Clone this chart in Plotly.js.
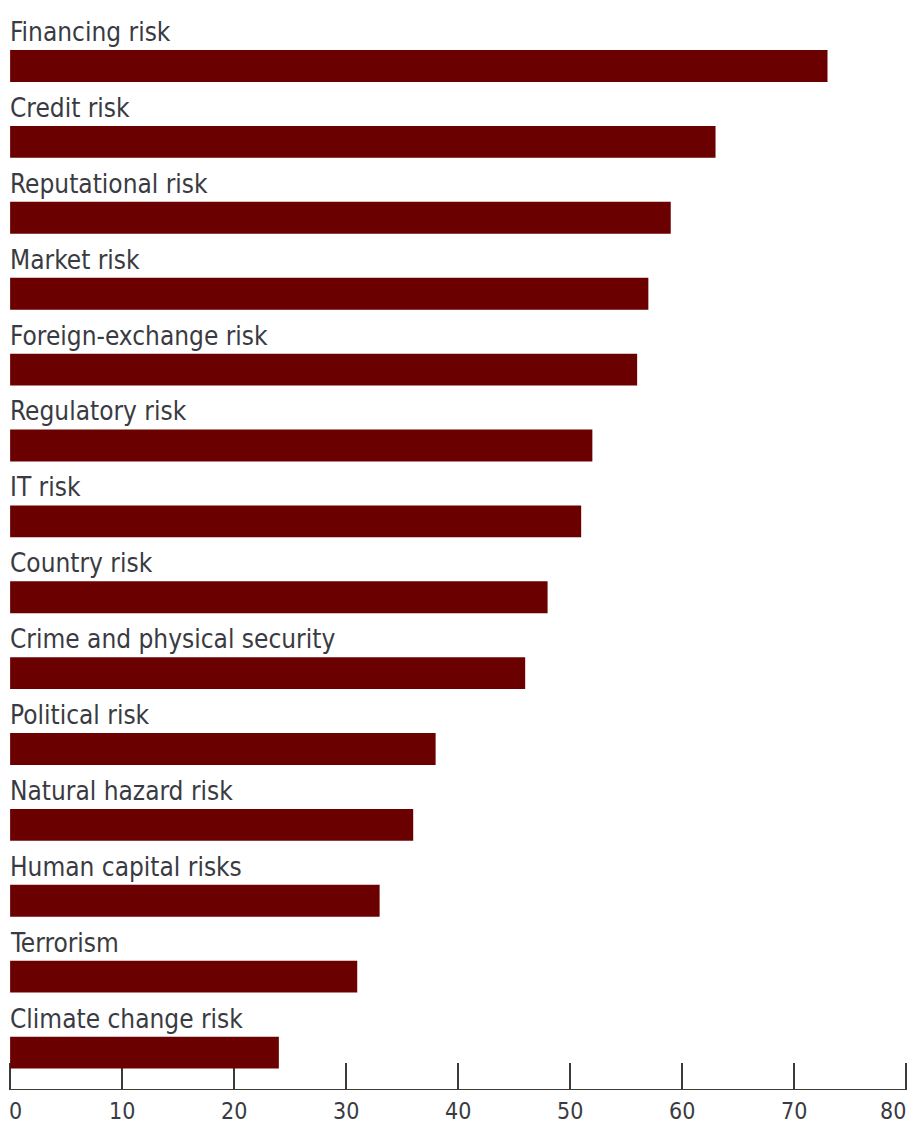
<!DOCTYPE html>
<html><head><meta charset="utf-8">
<script src="https://cdn.plot.ly/plotly-3.0.1.min.js"></script>
<style>html,body{margin:0;padding:0;background:#fff}</style>
</head><body>
<div id="chart" style="width:917px;height:1125px"></div>
<script>
const categories = ["Financing risk","Credit risk","Reputational risk","Market risk","Foreign-exchange risk","Regulatory risk","IT risk","Country risk","Crime and physical security","Political risk","Natural hazard risk","Human capital risks","Terrorism","Climate change risk"];
const values = [73,63,59,57,56,52,51,48,46,38,36,33,31,24];
const tickVals = [0,10,20,30,40,50,60,70,80];
const tickLabels = ["0","10","20","30","40","50","60","70","80"];

const FONT = '"DejaVu Sans Condensed", "Liberation Sans Narrow", sans-serif';
const TEXT = '#3a3b42';
const n = categories.length;

const catAnnotations = categories.map((c) => ({
  x: 0, y: c, xref: 'x', yref: 'y', text: c, showarrow: false,
  xanchor: 'left', yanchor: 'bottom', yshift: 17, xshift: -2,
  font: {family: FONT, size: 26, color: TEXT}
}));

const tickAnnotations = tickVals.map((v, i) => {
  const first = i === 0, last = i === tickVals.length - 1;
  return {
    x: v, y: 0, xref: 'x', yref: 'paper', text: tickLabels[i], showarrow: false,
    xanchor: first ? 'left' : (last ? 'right' : 'center'),
    xshift: first ? -3 : (last ? 2 : 0),
    yanchor: 'top', yshift: -7,
    font: {family: FONT, size: 23, color: TEXT}
  };
});

const data = [{
  type: 'bar', orientation: 'h', x: values, y: categories,
  marker: {color: '#6a0000', line: {width: 0}},
  width: 0.42, hoverinfo: 'none'
}];

const layout = {
  width: 917, height: 1125,
  margin: {l: 9, r: 10, t: 0, b: 36},
  paper_bgcolor: '#fff', plot_bgcolor: '#fff',
  showlegend: false,
  xaxis: {
    range: [-0.1, 80.1], tickvals: tickVals, showticklabels: false,
    ticks: 'inside', ticklen: 26, tickwidth: 1.4, tickcolor: '#3a3a3a',
    showline: true, linecolor: '#3a3a3a', linewidth: 1.4,
    showgrid: false, zeroline: false, layer: 'below traces',
    fixedrange: true
  },
  yaxis: {
    type: 'category', categoryorder: 'array', categoryarray: categories,
    range: [n - 0.52, -0.87],
    showticklabels: false, ticks: '', showgrid: false, zeroline: false, showline: false,
    fixedrange: true
  },
  annotations: catAnnotations.concat(tickAnnotations)
};

Plotly.newPlot('chart', data, layout, {displayModeBar: false, staticPlot: true});
</script>
</body></html>
